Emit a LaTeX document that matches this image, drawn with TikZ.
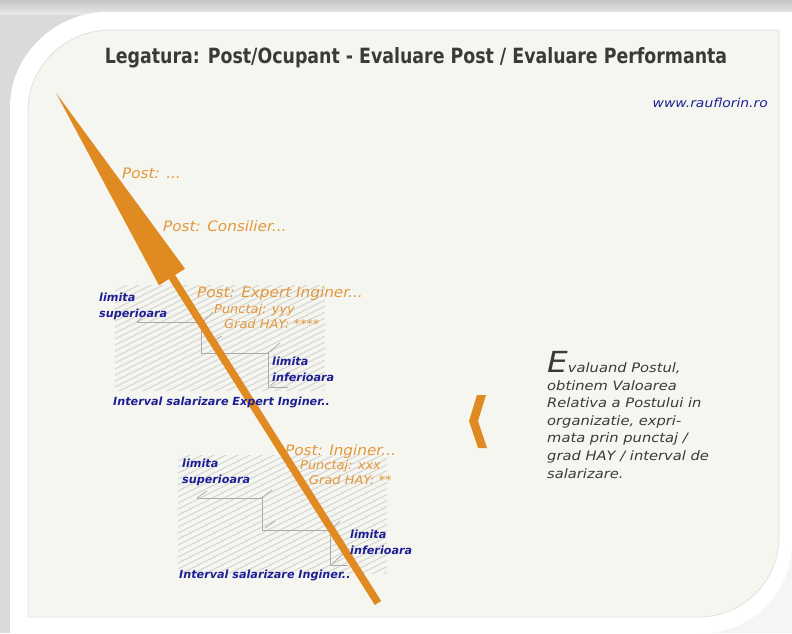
\documentclass[tikz,border=0pt]{standalone}
\usepackage{fontspec}
\setmainfont{DejaVu Sans}[FakeStretch=1.06]
\newfontfamily\titlefont{DejaVu Sans Condensed}[FakeStretch=0.92]
\newfontfamily\bodyfont{DejaVu Sans}[FakeStretch=1.13]
\newfontfamily\bluefont{DejaVu Sans}
\usetikzlibrary{calc}
\definecolor{arroworange}{HTML}{E08A22}
\definecolor{textorange}{HTML}{E3973A}
\definecolor{labelblue}{HTML}{1F1F95}
\definecolor{darktext}{HTML}{3A3A3A}
\definecolor{paneltone}{HTML}{F6F6F1}
\definecolor{panelline}{HTML}{E2E2DC}
\definecolor{hatchgray}{HTML}{D6D6D3}
\definecolor{stairgray}{HTML}{ABABAB}
\definecolor{bggray}{HTML}{DADADA}
\begin{document}
\begin{tikzpicture}[x=1pt,y=-1pt,
  otext/.style={text=textorange, font=\itshape\fontsize{14.4}{16}\selectfont, anchor=base west, inner sep=0pt},
  osmall/.style={text=textorange, font=\itshape\fontsize{12.2}{14}\selectfont, anchor=base west, inner sep=0pt},
  blab/.style={text=labelblue, font=\bluefont\bfseries\itshape\fontsize{11.2}{15.5}\selectfont, anchor=base west, inner sep=0pt, align=left},
  hatch/.style={draw=hatchgray, line width=1.1pt},
  stair/.style={draw=stairgray, line width=0.8pt},
  bodytext/.style={text=darktext, font=\bodyfont\itshape\fontsize{13}{17.6}\selectfont, anchor=base west, inner sep=0pt, align=left}]
\useasboundingbox (0,0) rectangle (792,633);
% background and frame
\fill[bggray] (0,0) rectangle (792,633);
\shade[top color=gray!45, bottom color=gray!18] (0,0) rectangle (792,14);
\fill[gray!8] (700,633) .. controls (760,610) and (792,580) .. (792,520) -- (792,633) -- cycle;
\fill[white] (10,633) -- (10,107) .. controls (10,55) and (55,12) .. (107,12) -- (792,12) -- (792,543) .. controls (792,592) and (752,633) .. (703,633) -- cycle;
\filldraw[fill=paneltone, draw=panelline, line width=0.8pt] (28,617) -- (28,110) .. controls (28,66) and (66,30) .. (110,30) -- (779,30) -- (779,537) .. controls (779,581) and (743,617) .. (699,617) -- cycle;
% hatched salary intervals
\begin{scope}
  \clip (115,285) rectangle (325,390);
  \foreach \k in {0,...,36} \draw[hatch] (115,285+\k*6) -- ++(210,-105);
\end{scope}
\begin{scope}
  \clip (178,455) rectangle (387,573);
  \foreach \k in {0,...,38} \draw[hatch] (178,455+\k*6) -- ++(209,-104.5);
\end{scope}
% upper staircase
\draw[stair] (137,322) -- ++(5,-5);
\draw[stair] (137,322) -- (201,322) -- (201,353) -- (268,353) -- (268,387) -- (288,387);
\draw[stair] (204,321) -- ++(9,-9);
\draw[stair] (214,341) -- ++(8,-5);
\draw[stair] (268,353) -- ++(12,-10);
\draw[stair] (270,386) -- ++(6,-5);
% lower staircase
\draw[stair] (197,498) -- ++(10,-7);
\draw[stair] (197,498) -- (262,498) -- (262,530) -- (330,530) -- (330,565) -- (348,565);
\draw[stair] (262,498) -- ++(10,-8);
\draw[stair] (265,528) -- ++(10,-7);
\draw[stair] (330,530) -- ++(10,-9);
\draw[stair] (332,564) -- ++(11,-10);
% big arrow
\coordinate (tip) at (56,93);
\coordinate (base) at (172,277);
\coordinate (shaftend) at (378,603);
\fill[arroworange] (tip) -- ($(base)+(13,-8.3)$) -- ($(base)+(-13,8.3)$) -- cycle;
\draw[arroworange, line width=7.5pt] (base) -- (shaftend);
% chevron
\fill[arroworange] (477,395) -- (486,395) -- (478,421) -- (487,448) -- (478,448) -- (469,421) -- cycle;
% texts
\node[anchor=base, inner sep=0pt, text=darktext, font=\titlefont\bfseries\fontsize{21}{24}\selectfont] (title) at (416,63) {Legatura: Post/Ocupant - Evaluare Post / Evaluare Performanta};
\node[anchor=base east, inner sep=0pt, text=labelblue, font=\bodyfont\itshape\fontsize{12.3}{14}\selectfont] (www) at (768,107) {www.rauflorin.ro};
\node[otext] (p0) at (122,178) {Post: ...};
\node[otext] (p1) at (163,231) {Post: Consilier...};
\node[otext] (p2) at (197,297) {Post: Expert Inginer...};
\node[osmall] (p2a) at (214,313) {Punctaj: yyy};
\node[osmall] (p2b) at (224,328) {Grad HAY: ****};
\node[blab] (s1) at (99,317) {limita\\superioara};
\node[blab] (i1) at (272,381) {limita\\inferioara};
\node[blab] (int1) at (113,405) {Interval salarizare Expert Inginer..};
\node[otext] (p3) at (285,455) {Post: Inginer...};
\node[osmall] (p3a) at (300,469) {Punctaj: xxx};
\node[osmall] (p3b) at (309,484) {Grad HAY: **};
\node[blab] (s2) at (182,483) {limita\\superioara};
\node[blab] (i2) at (350,554) {limita\\inferioara};
\node[blab] (int2) at (179,578) {Interval salarizare Inginer..};
\node[bodytext] (body) at (547,478) {{\fontsize{29}{29}\selectfont E}valuand Postul,\\obtinem Valoarea\\Relativa a Postului in\\organizatie, expri-\\mata prin punctaj /\\grad HAY / interval de\\salarizare.};
\end{tikzpicture}
\end{document}
